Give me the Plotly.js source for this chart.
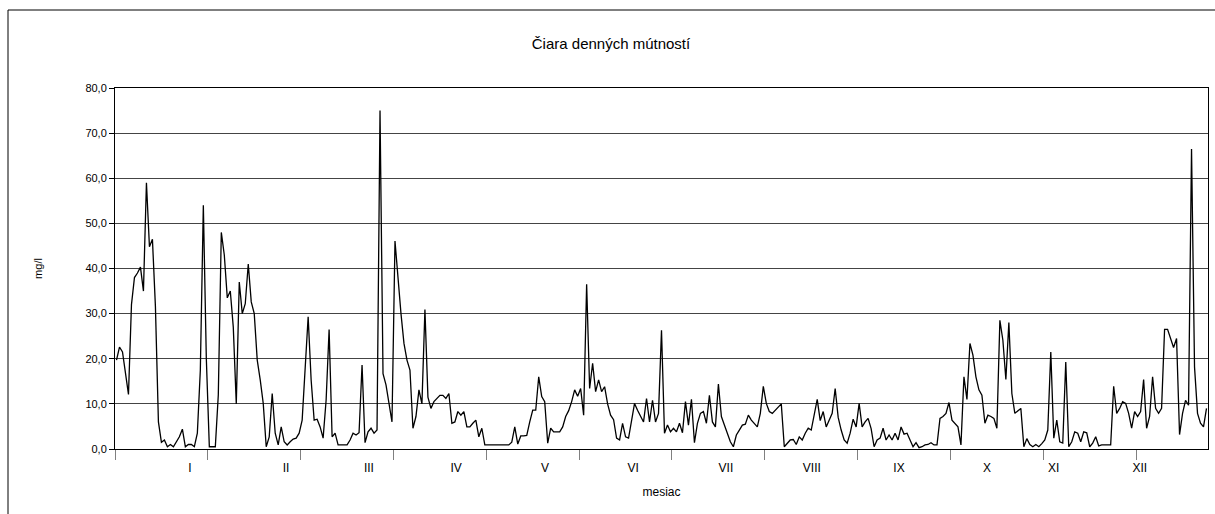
<!DOCTYPE html>
<html>
<head>
<meta charset="utf-8">
<script src="https://cdn.plot.ly/plotly-3.0.1.min.js"></script>
<style>
html,body{margin:0;padding:0;background:#fff;}
#chart{width:1215px;height:514px;}
</style>
</head>
<body>
<div id="chart"></div>
<script>
// Daily turbidity (mg/l), one array per calendar month
const jan = [19.7,22.6,21.5,16.5,12.1,32,38,39,40.3,35,59,44.8,46.5,31.5,6,1.5,2,0.5,1,0.5,1.5,2.7,4.4,0.5,1,1,0.5,3.5,17.5,54,20];
const feb = [0.5,0.5,0.5,12,48,43,33.5,35,27,10,37,30,32.2,41,32.6,30,19.7,15.3,10.1,0.5,2.7,12.3,3.5,0.9,4.9,1.6,0.9,1.6];
const mar = [2.2,2.4,3.5,6.4,17,29.3,15.3,6.4,6.6,4.9,2.4,10.8,26.5,2.7,3.5,0.9,0.9,0.9,0.9,2,3.5,3.1,3.6,18.6,1.4,3.8,4.6,3.5,4.2,75,16.7];
const apr = [14.2,10,6,46.1,37,30,23.4,19.7,17.5,4.6,7.2,13.1,10,30.9,11.5,9,10.5,11.2,11.9,11.9,11.2,12.3,5.7,6,8.3,7.5,8.3,4.9,4.9,5.7];
const may = [6.4,2.7,4.6,0.9,0.9,0.9,0.9,0.9,0.9,0.9,0.9,0.9,1.5,4.9,1.1,2.9,2.9,3,6,8.6,8.6,16,11.6,10.5,1.3,4.6,3.8,3.8,3.8,4.9,7.2];
const jun = [8.5,10.5,13.1,11.7,13.4,7.5,36.5,13.4,19,12.7,15.3,12.7,13.8,10,7.5,6.5,2.4,2,5.7,2.7,2.4,6.4,10.1,8.6,7.2,6,11.2,6,10.8,6];
const jul = [7.9,26.3,3.5,5.3,3.8,4.6,3.8,5.7,3.6,10.5,5.3,11,1.4,5.7,7.9,8.3,5.7,11.9,6,4.9,14.4,7.2,5.3,3.5,1.6,0.5,3.1,4.2,5.3,5.5,7.5];
const aug = [6.4,5.7,4.9,7.9,13.9,10.1,8.3,7.9,8.6,9.5,10,0.5,1.3,2,2.1,1,2.7,2,3.5,4.6,4.2,7.5,11,6.3,8.3,4.9,6.4,7.9,13.4,7,4.2];
const sep = [2,1.3,3.5,6.6,4.9,10.1,4.9,6,6.8,4.5,0.5,2,2.4,4.6,2,3.1,2,3.5,2,4.9,3.3,3.5,2,0.5,1.4,0.3,0.5,0.9,1,1.4];
const oct = [0.9,0.9,6.8,7.2,7.9,10.3,6.4,5.7,4.9,0.9,16,11,23.4,20.8,16,13.1,11.9,5.7,7.5,7.2,6.8,4.6,28.5,24.1,15.4,28,12.3,7.9,8.5,9,0.5];
const nov = [2.3,1,0.5,1,0.5,1.2,2,4.2,21.5,2.4,6.4,1.6,1.3,19.3,0.5,1.6,3.8,3.5,1.6,3.8,3.6,0.5,1.3,2.7,0.7,0.9,0.9,0.9,0.9,13.9];
const dec = [7.9,9,10.5,10.1,7.9,4.6,8.3,7.2,8.3,15.4,4.6,7.2,16,9,7.9,9,26.5,26.5,24.5,22.5,24.5,3.2,7.9,10.8,9.7,66.5,18.2,7.9,5.7,4.9,9];

const monthLabels = ['I','II','III','IV','V','VI','VII','VIII','IX','X','XI','XII'];
const labelDays = [25,57.1,84.8,113.9,143.6,173,204,232.7,261.8,291.2,313.5,342.2];
const tickDays = [0,31,62,93,124,155,186,217,248,279,310,341];

const values = [].concat(jan,feb,mar,apr,may,jun,jul,aug,sep,oct,nov,dec);
const days = values.map((v,i)=>i+0.5);

const font = 'Arial, "Liberation Sans", sans-serif';

const traces = [
  {x: days, y: values, type:'scatter', mode:'lines',
   line:{color:'#000', width:1.3}, hoverinfo:'skip', showlegend:false},
  {x: labelDays, y: labelDays.map(()=>null), xaxis:'x2', yaxis:'y', type:'scatter', mode:'lines',
   hoverinfo:'skip', showlegend:false}
];

// plot area pixel geometry for frame shapes
const L=115, R=1208, T=88, B=449;
const px = v => (v-L)/(R-L);
const py = v => (B-v)/(B-T);

const layout = {
  width:1215, height:514,
  margin:{l:L, r:1215-R, t:T, b:514-B, pad:0},
  paper_bgcolor:'#fff', plot_bgcolor:'#fff',
  separators:', ',
  font:{family:font, size:11, color:'#000'},
  title:{text:'Čiara denných mútností', font:{family:font, size:15, color:'#000'},
         x:611/1215, xanchor:'center', y:1-44/514, yanchor:'middle', xref:'container', yref:'container'},
  xaxis:{range:[0,365], tickmode:'array', tickvals:tickDays, ticktext:tickDays.map(()=>''),
         ticks:'outside', ticklen:10, tickcolor:'#808080', tickwidth:1,
         showgrid:false, zeroline:false, showline:true, linecolor:'#000', linewidth:1, mirror:true,
         fixedrange:true,
         title:{text:'mesiac', font:{family:font, size:12, color:'#000'}, standoff:26}},
  xaxis2:{range:[0,365], overlaying:'x', anchor:'y', side:'bottom', tickmode:'array',
          tickvals:labelDays, ticktext:monthLabels, ticks:'', showgrid:false, zeroline:false,
          showline:false, tickfont:{family:font, size:12, color:'#000'}, ticklabelstandoff:10},
  yaxis:{range:[0,80], tickmode:'linear', tick0:0, dtick:10, tickformat:'.1f',
         ticks:'outside', ticklen:5, tickcolor:'#000',
         showgrid:true, gridcolor:'#444', gridwidth:1, zeroline:false,
         showline:true, linecolor:'#000', linewidth:1, mirror:true,
         tickfont:{family:font, size:11, color:'#000'},
         title:{text:'mg/l', font:{family:font, size:11, color:'#000'}, standoff:40}},
  shapes:[
    {type:'line', xref:'paper', yref:'paper', x0:px(8), x1:px(1215), y0:py(10), y1:py(10), line:{color:'#000', width:1}},
    {type:'line', xref:'paper', yref:'paper', x0:px(8), x1:px(8), y0:py(10), y1:py(514), line:{color:'#000', width:1}}
  ]
};

Plotly.newPlot('chart', traces, layout, {displayModeBar:false, staticPlot:true});
</script>
</body>
</html>
